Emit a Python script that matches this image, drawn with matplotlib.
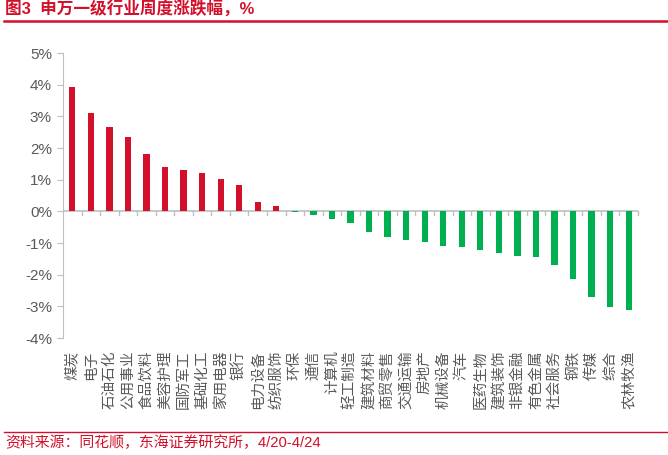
import matplotlib
matplotlib.use("Agg")
import matplotlib.pyplot as plt
from matplotlib.lines import Line2D
from matplotlib.ticker import FuncFormatter
from matplotlib.transforms import ScaledTranslation

plt.rcParams['font.family'] = ['Liberation Sans', 'Noto Sans CJK SC']

# 申万一级行业周度涨跌幅 (%)
industries = ["煤炭", "电子", "石油石化", "公用事业", "食品饮料", "美容护理", "国防军工",
              "基础化工", "家用电器", "银行", "电力设备", "纺织服饰", "环保", "通信",
              "计算机", "轻工制造", "建筑材料", "商贸零售", "交通运输", "房地产",
              "机械设备", "汽车", "医药生物", "建筑装饰", "非银金融", "有色金属",
              "社会服务", "钢铁", "传媒", "综合", "农林牧渔"]
changes = [3.93, 3.10, 2.66, 2.35, 1.80, 1.41, 1.31, 1.22, 1.02, 0.82, 0.28, 0.16,
           -0.03, -0.10, -0.25, -0.38, -0.66, -0.80, -0.90, -0.98, -1.08, -1.14,
           -1.23, -1.33, -1.40, -1.43, -1.71, -2.15, -2.69, -3.01, -3.13]

RED = "#d3102b"
GREEN = "#00b050"
AXIS_GREY = "#bfbfbf"
TEXT_GREY = "#595959"

fig = plt.figure(figsize=(6.68, 4.55), dpi=100)
ax = fig.add_axes([63 / 668, 1 - 338 / 455, 575 / 668, 285 / 455])

x = range(len(industries))
colors = [RED if v >= 0 else GREEN for v in changes]
ax.bar(x, changes, width=0.34, color=colors, zorder=2)

ax.set_xlim(-0.5, len(industries) - 0.5)
ax.set_ylim(-4, 5)
ax.set_yticks(range(-4, 6))
ax.yaxis.set_major_formatter(FuncFormatter(lambda v, p: f"{v:.0f}%"))

# x axis drawn at zero, ticks at category boundaries
for s in ["top", "right", "bottom"]:
    ax.spines[s].set_visible(False)
ax.spines["left"].set_color(AXIS_GREY)
ax.axhline(0, color=AXIS_GREY, lw=1.2, zorder=1)
for i in range(len(industries)):
    ax.plot([i + 0.5, i + 0.5], [0, -0.12], color=AXIS_GREY, lw=1, zorder=1,
            clip_on=False)

ax.set_xticks(list(x))
ax.set_xticklabels(industries, rotation=90, va="top", ha="center",
                   fontsize=10.5, color=TEXT_GREY)
shift = ScaledTranslation(4 / 100, 0, fig.dpi_scale_trans)
for lab in ax.get_xticklabels():
    lab.set_transform(lab.get_transform() + shift)
ax.tick_params(axis="x", length=0, pad=9)
ax.tick_params(axis="y", length=4, color=AXIS_GREY, labelsize=11,
               labelcolor=TEXT_GREY, pad=4)

# header and footer
fig.text(5 / 668, 1 - 9 / 455, "图3  申万一级行业周度涨跌幅，%", color=RED,
         fontsize=12, fontweight="bold", va="center", ha="left")
fig.add_artist(Line2D([4 / 668, 1], [1 - 21 / 455] * 2, color=RED, lw=1.8))
fig.add_artist(Line2D([4 / 668, 1], [1 - 432 / 455] * 2, color=RED, lw=1.0))
fig.text(5 / 668, 1 - 443 / 455, "资料来源：同花顺，东海证券研究所，4/20-4/24",
         color=RED, fontsize=10.7, va="center", ha="left")

fig.savefig("out.png", dpi=100)
